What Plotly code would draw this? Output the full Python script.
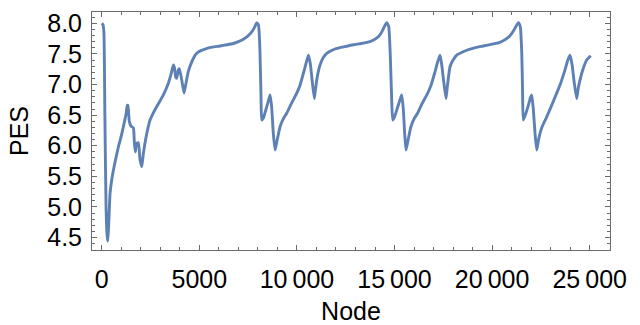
import plotly.graph_objects as go

node = [
    0, 60, 110, 160, 220, 270, 310, 360, 425, 500, 596, 700, 851, 1000, 1108, 1250, 1310, 1340,
    1410, 1500, 1620, 1670, 1720, 1790, 1875, 1960, 2049, 2130, 2270, 2474, 2650, 2818, 3000,
    3156, 3300, 3412, 3550, 3668, 3720, 3790, 3842, 3920, 3975, 4100, 4216, 4320, 4440, 4611,
    4750, 4867, 5050, 5292, 5650, 6060, 6400, 6742, 7000, 7254, 7480, 7684, 7820, 7940,
    8030, 8100, 8160, 8200, 8280, 8400, 8530, 8622, 8700, 8790, 8878, 8960, 9135, 9300, 9477,
    9700, 9990, 10150, 10328, 10480, 10584, 10680, 10758, 10891, 10950, 11014, 11100, 11183,
    11350, 11526, 11800, 12039, 12450, 12889, 13300, 13745, 13950, 14170, 14350, 14513, 14600,
    14700, 14780, 14850, 14908, 15000, 15150, 15290, 15369, 15450, 15520, 15589, 15680, 15840,
    16000, 16180, 16400, 16700, 16860, 17050, 17220, 17331, 17420, 17520, 17638, 17700, 17843,
    18000, 18186, 18699, 19100, 19549, 20000, 20404, 20830, 21000, 21173, 21342,
    21440, 21520, 21560, 21598, 21700, 21850, 21960, 22029, 22110, 22200, 22285, 22380, 22550,
    22797, 23050, 23309, 23520, 23734, 23880, 23990, 24100, 24200, 24334, 24420, 24590, 24720,
    24846, 25051,
]
pes = [
    8.00, 7.98, 7.85, 6.50, 5.00, 4.55, 4.44, 4.75, 5.22, 5.42, 5.60, 5.76, 5.98, 6.16, 6.31, 6.53, 6.66, 6.66,
    6.40, 6.32, 6.29, 6.05, 5.90, 6.04, 6.05, 5.77, 5.66, 5.87, 6.14, 6.42, 6.54, 6.64, 6.74,
    6.83, 6.93, 7.02, 7.17, 7.32, 7.28, 7.12, 7.10, 7.24, 7.26, 7.07, 6.86, 7.03, 7.22, 7.37,
    7.46, 7.51, 7.55, 7.58, 7.61, 7.63, 7.65, 7.67, 7.70, 7.74, 7.79, 7.86, 7.93, 8.01,
    7.97, 7.60, 6.80, 6.42, 6.45, 6.58, 6.72, 6.83, 6.65, 6.20, 5.93, 6.05, 6.31, 6.44, 6.53,
    6.68, 6.86, 6.98, 7.18, 7.36, 7.48, 7.35, 7.13, 6.77, 6.92, 7.07, 7.22, 7.32,
    7.44, 7.51, 7.56, 7.59, 7.62, 7.65, 7.67, 7.70, 7.73, 7.78, 7.86, 7.97, 8.01,
    7.95, 7.50, 6.80, 6.42, 6.47, 6.62, 6.76, 6.83, 6.60, 6.20, 5.93, 6.07, 6.31,
    6.44, 6.53, 6.68, 6.86, 6.98, 7.18, 7.38, 7.48, 7.32, 7.05, 6.77, 6.95, 7.29,
    7.40, 7.48, 7.56, 7.60, 7.63, 7.66, 7.69, 7.77, 7.83, 7.92, 8.01,
    7.95, 7.50, 6.90, 6.42, 6.50, 6.65, 6.78, 6.83, 6.60, 6.20, 5.93, 6.10, 6.30,
    6.47, 6.66, 6.86, 7.03, 7.24, 7.40, 7.48, 7.32, 7.05, 6.77, 6.95, 7.18, 7.31,
    7.40, 7.47,
]

x_tickvals = [0, 5000, 10000, 15000, 20000, 25000]
x_ticktext = ["0", "5000", "10\u2009000", "15\u2009000", "20\u2009000", "25\u2009000"]
y_tickvals = [4.5, 5.0, 5.5, 6.0, 6.5, 7.0, 7.5, 8.0]
y_ticktext = ["4.5", "5.0", "5.5", "6.0", "6.5", "7.0", "7.5", "8.0"]

FONT = "Liberation Sans, Arial, sans-serif"

fig = go.Figure()
fig.add_trace(go.Scatter(
    x=node, y=pes, mode="lines",
    line=dict(color="#5E81B5", width=2.9, shape="spline", smoothing=0.5),
    showlegend=False,
))

axis_common = dict(
    showline=True, linecolor="#6b6b6b", linewidth=1, mirror="ticks",
    ticks="inside", ticklen=5, tickcolor="#6b6b6b", tickwidth=1,
    showgrid=False, zeroline=False, automargin=False,
    tickfont=dict(family=FONT, size=25, color="black"),
    title_font=dict(family=FONT, size=25, color="black"),
)

fig.update_xaxes(
    range=[-500, 26040], tickmode="array", tickvals=x_tickvals, ticktext=x_ticktext,
    minor=dict(ticks="inside", dtick=1000, tick0=0, ticklen=3, tickcolor="#6b6b6b", showgrid=False),
    title_text="Node", title_standoff=21, ticklabelstandoff=7, **axis_common,
)
fig.update_yaxes(
    range=[4.296, 8.185], tickmode="array", tickvals=y_tickvals, ticktext=y_ticktext,
    minor=dict(ticks="inside", dtick=0.1, tick0=0, ticklen=3, tickcolor="#6b6b6b", showgrid=False),
    title_text="PES", title_standoff=11, ticklabelstandoff=4, **axis_common,
)

fig.update_layout(
    width=640, height=325,
    margin=dict(l=92, r=30, t=12, b=75),
    plot_bgcolor="white", paper_bgcolor="white",
)

fig.write_html("out.html")
